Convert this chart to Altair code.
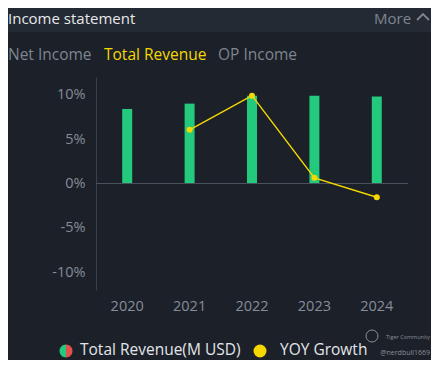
import altair as alt
import pandas as pd

# ---- data ----
years = ["2020", "2021", "2022", "2023", "2024"]
revenue_musd = [84000, 90000, 99000, 99000, 98000]
yoy_growth = [None, 6.05, 9.9, 0.64, -1.55]
pct_ticks = [-10, -5, 0, 5, 10]

header_title = ["Income statement"]
header_more = ["More"]
tab_labels = ["Net Income", "Total Revenue", "OP Income"]
legend_labels = ["Total Revenue(M USD)", "YOY Growth"]
watermark = ["Tiger Community", "@nerdbull1669"]

BG = "#1b2029"
HEADER_BG = "#242a33"
GREEN = "#23c97c"
RED = "#e4504c"
YELLOW = "#f5d800"
GREY = "#7e8590"
LABEL = "#868d98"
FONT = "Open Sans"

df = pd.DataFrame({"year": years, "revenue": revenue_musd, "yoy": yoy_growth})
zero_df = pd.DataFrame({"z": [0]})
one = pd.DataFrame({"a": [1]})

W, H = 312, 213
pct_scale = alt.Scale(domain=[-12, 12], nice=False)
xenc = alt.X(
    "year:N",
    scale=alt.Scale(paddingInner=0, paddingOuter=0),
    axis=alt.Axis(
        title=None, domain=False, ticks=False, labelAngle=0,
        labelColor=LABEL, labelFontSize=14.5, labelFont=FONT, labelPadding=9,
    ),
)

bars = alt.Chart(df).mark_bar(size=10, color=GREEN).encode(
    x=xenc,
    y=alt.Y("revenue:Q", scale=alt.Scale(domain=[-120000, 120000], nice=False), axis=None),
)

zero_rule = alt.Chart(zero_df).mark_rule(color="#4a525d", strokeWidth=1).encode(
    y=alt.Y("z:Q", scale=pct_scale, axis=None)
)

line = alt.Chart(df).mark_line(color=YELLOW, strokeWidth=1.4).encode(
    x=xenc,
    y=alt.Y(
        "yoy:Q", scale=pct_scale,
        axis=alt.Axis(
            orient="left", title=None, values=pct_ticks, labelExpr="datum.value + '%'",
            grid=False, ticks=False, domain=True, domainColor="#3a414b",
            labelColor=LABEL, labelFontSize=14.5, labelFont=FONT, labelPadding=11,
        ),
    ),
)

points = alt.Chart(df).mark_circle(color=YELLOW, size=36, opacity=1).encode(
    x=xenc,
    y=alt.Y("yoy:Q", scale=pct_scale, axis=None),
)

# ---- decorations (header, tabs, legend, watermark) ----
header_rect = alt.Chart(one).mark_rect(color=HEADER_BG).encode(
    x=alt.value(-100), x2=alt.value(340), y=alt.value(-80), y2=alt.value(-45)
)

def txt(label, x, y, color, size=15.5, align="left", baseline="alphabetic"):
    return alt.Chart(pd.DataFrame({"t": [label]})).mark_text(
        align=align, baseline=baseline, font=FONT, fontSize=size, color=color
    ).encode(text="t:N", x=alt.value(x), y=alt.value(y))

title_t = txt(header_title[0], -88, -53, "#e6e8eb", 15)
more_t = txt(header_more[0], 278, -53, GREY, 15)
chevron = alt.Chart(one).mark_point(
    shape="M-1,0.5L0,-0.5L1,0.5", filled=False, stroke=GREY, strokeWidth=1.8, size=144, opacity=1
).encode(x=alt.value(327), y=alt.value(-60))

tab1 = txt(tab_labels[0], -88, -17, GREY)
tab2 = txt(tab_labels[1], 8, -17, YELLOW)
tab3 = txt(tab_labels[2], 122, -17, GREY)

leg_green = alt.Chart(one).mark_point(
    shape="M0,-1A1,1 0 0,0 0,1Z", filled=True, color=GREEN, size=169, opacity=1
).encode(x=alt.value(-30), y=alt.value(274))
leg_red = alt.Chart(one).mark_point(
    shape="M0,-1A1,1 0 0,1 0,1Z", filled=True, color=RED, size=169, opacity=1
).encode(x=alt.value(-30), y=alt.value(274))
leg_t1 = txt(legend_labels[0], -16, 273, "#e3e6ea", baseline="middle")
leg_yellow = alt.Chart(one).mark_circle(color=YELLOW, size=169, opacity=1).encode(
    x=alt.value(164), y=alt.value(274)
)
leg_t2 = txt(legend_labels[1], 184, 273, "#e3e6ea", baseline="middle")

wm_logo = alt.Chart(one).mark_point(
    shape="circle", filled=False, stroke="#8a8f98", strokeWidth=1, size=144, opacity=1
).encode(x=alt.value(276), y=alt.value(259))
wm1 = txt(watermark[0], 334, 262, "#8a8f98", 5.5, align="right")
wm2 = txt(watermark[1], 334, 278, "#8a8f98", 7, align="right")

chart = alt.layer(
    header_rect, title_t, more_t, chevron, tab1, tab2, tab3,
    bars, zero_rule, line, points,
    leg_green, leg_red, leg_t1, leg_yellow, leg_t2, wm_logo, wm1, wm2,
).resolve_scale(y="independent").properties(
    width=W, height=H,
    autosize=alt.AutoSizeParams(type="none"),
    padding={"left": 88, "top": 69, "right": 23, "bottom": 70},
    background=BG,
).configure_view(stroke=None)

chart.save("out.html", embed_options={"renderer": "svg", "actions": False})
